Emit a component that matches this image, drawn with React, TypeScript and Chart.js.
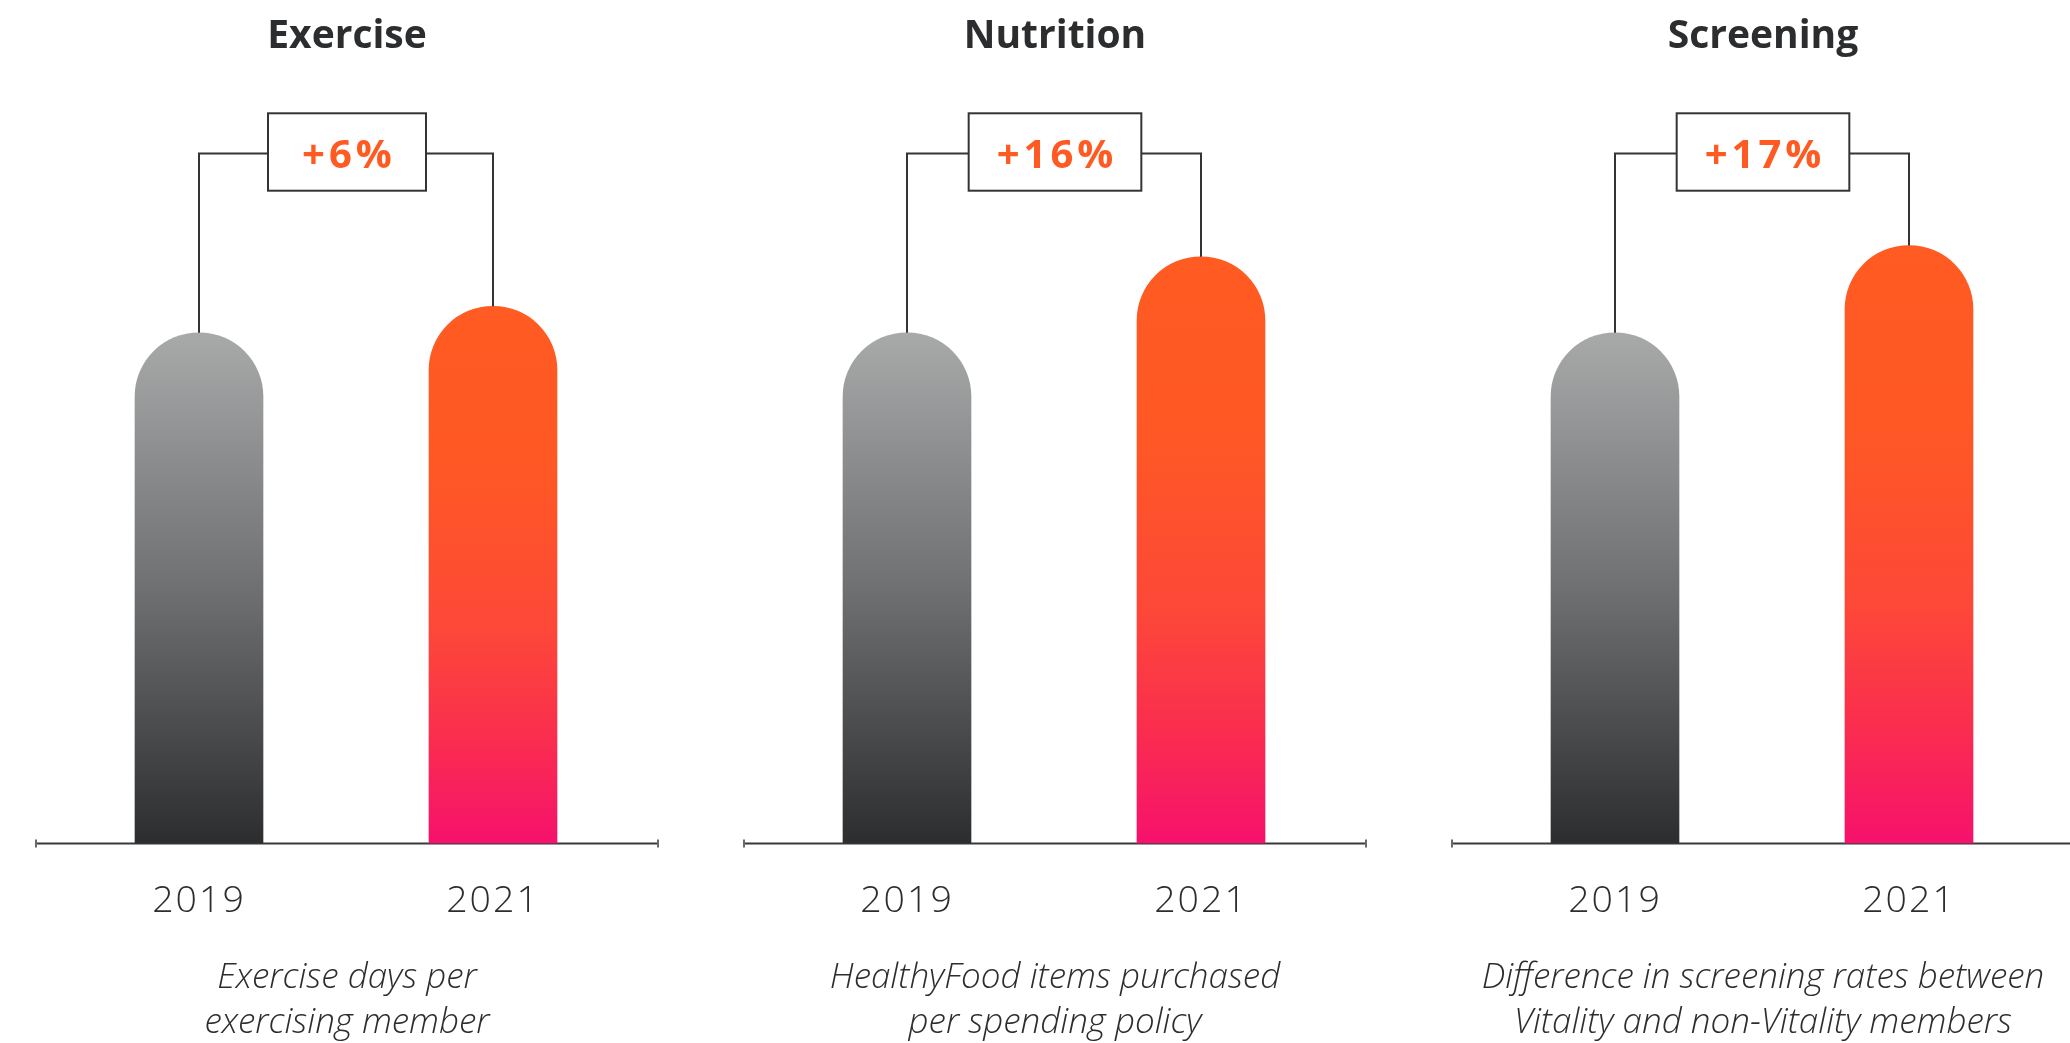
import React, { useEffect, useRef } from 'react';
import { Chart, registerables } from 'chart.js';

Chart.register(...registerables);

// ---- data ----
const years = ['2019', '2021'];
const panelTitles = ['Exercise', 'Nutrition', 'Screening'];
const values2019 = [100, 100, 100];
const values2021 = [105.2, 114.9, 117.1];
const changeLabels = ['+6%', '+16%', '+17%'];
const captionLine1 = ['Exercise days per', 'HealthyFood items purchased', 'Difference in screening rates between'];
const captionLine2 = ['exercising member', 'per spending policy', 'Vitality and non-Vitality members'];

// ---- style ----
const PANEL_LEFT = [25, 733, 1441];
const CANVAS_W = 644;
const CANVAS_H = 1043;
const DARK = '#2c2d2f';
const ORANGE = '#ff5a22';
const FONT = '"Open Sans", "Noto Sans", sans-serif';

function gradientFor(chart: any, index: number, value: number) {
  const area = chart.chartArea;
  const yScale = chart.scales && chart.scales.y;
  if (!area || !yScale) return index === 0 ? '#6e6f71' : ORANGE;
  const top = yScale.getPixelForValue(value);
  const base = yScale.getPixelForValue(0);
  const g = chart.ctx.createLinearGradient(0, top, 0, base);
  if (index === 0) {
    g.addColorStop(0, '#a8a9a9');
    g.addColorStop(0.5, '#6f7072');
    g.addColorStop(1, '#2c2d2f');
  } else {
    g.addColorStop(0, '#ff5b22');
    g.addColorStop(0.3, '#ff5824');
    g.addColorStop(0.6, '#fd4838');
    g.addColorStop(0.8, '#fa2e4e');
    g.addColorStop(1, '#f6116c');
  }
  return g;
}

function makeDecor(i: number) {
  return {
    id: 'decor' + i,
    beforeDraw(chart: any) {
      (chart.ctx as any).letterSpacing = '2px';
    },
    beforeDatasetsDraw(chart: any) {
      const ctx = chart.ctx;
      (ctx as any).letterSpacing = '0px';
      const yBase = chart.chartArea.bottom;
      ctx.save();
      ctx.strokeStyle = '#38393b';
      ctx.lineWidth = 2;
      ctx.beginPath();
      ctx.moveTo(10, yBase);
      ctx.lineTo(chart.width - 10, yBase);
      ctx.stroke();
      ctx.strokeStyle = '#6a6a6a';
      ctx.beginPath();
      ctx.moveTo(11, yBase - 4);
      ctx.lineTo(11, yBase + 4);
      ctx.moveTo(chart.width - 11, yBase - 4);
      ctx.lineTo(chart.width - 11, yBase + 4);
      ctx.stroke();
      ctx.restore();
    },
    afterDatasetsDraw(chart: any) {
      const ctx = chart.ctx;
      const cx = chart.width / 2;
      const meta = chart.getDatasetMeta(0);
      const b0 = meta.data[0];
      const b1 = meta.data[1];
      ctx.save();
      // title
      ctx.fillStyle = DARK;
      ctx.font = `bold 39px ${FONT}`;
      ctx.textAlign = 'center';
      ctx.textBaseline = 'alphabetic';
      ctx.fillText(panelTitles[i], cx, 47.5);

      // change box
      const lineY = 153.5;
      ctx.font = `bold 40px ${FONT}`;
      const spacing = 4;
      (ctx as any).letterSpacing = spacing + 'px';
      const tw = ctx.measureText(changeLabels[i]).width;
      const boxW = Math.max(158, tw + 52);
      const boxL = cx - boxW / 2;
      const boxR = cx + boxW / 2;
      ctx.strokeStyle = '#333436';
      ctx.lineWidth = 2;
      ctx.strokeRect(boxL, 113.3, boxW, 77.4);
      ctx.beginPath();
      ctx.moveTo(b0.x, b0.y);
      ctx.lineTo(b0.x, lineY);
      ctx.lineTo(boxL, lineY);
      ctx.moveTo(boxR, lineY);
      ctx.lineTo(b1.x, lineY);
      ctx.lineTo(b1.x, b1.y);
      ctx.stroke();
      ctx.fillStyle = ORANGE;
      ctx.fillText(changeLabels[i], cx + spacing / 2, 168.3);
      (ctx as any).letterSpacing = '0px';

      // caption
      ctx.fillStyle = DARK;
      ctx.font = `italic 300 35px ${FONT}`;
      ctx.fillText(captionLine1[i], cx, 987.7);
      ctx.fillText(captionLine2[i], cx, 1032.5);
      ctx.restore();
    },
  };
}

function Panel({ index }: { index: number }) {
  const ref = useRef<HTMLCanvasElement>(null);
  useEffect(() => {
    if (!ref.current) return;
    const chart = new Chart(ref.current, {
      type: 'bar',
      data: {
        labels: years,
        datasets: [
          {
            data: [values2019[index], values2021[index]],
            backgroundColor: (c: any) => gradientFor(c.chart, c.dataIndex, c.raw),
            borderWidth: 0,
            borderSkipped: 'start',
            borderRadius: { topLeft: 64, topRight: 64, bottomLeft: 0, bottomRight: 0 },
            barThickness: 128,
          } as any,
        ],
      },
      options: {
        responsive: false,
        animation: false,
        devicePixelRatio: 1,
        layout: { padding: { top: 77.5, bottom: 84.6, left: 27, right: 29 } },
        plugins: {
          legend: { display: false },
          tooltip: { enabled: false },
        },
        scales: {
          x: {
            grid: { display: false, drawTicks: false },
            border: { display: false },
            ticks: {
              color: DARK,
              padding: 35,
              font: { family: FONT, size: 37.5, weight: '300' as any },
            },
          },
          y: { display: false, min: 0, max: 150 },
        },
      },
      plugins: [makeDecor(index)],
    });
    return () => chart.destroy();
  }, [index]);
  return (
    <canvas
      ref={ref}
      width={CANVAS_W}
      height={CANVAS_H}
      style={{ position: 'absolute', left: PANEL_LEFT[index], top: 0, width: CANVAS_W, height: CANVAS_H }}
    />
  );
}

export default function App() {
  return (
    <div
      style={{
        position: 'absolute',
        left: 0,
        top: 0,
        width: 2070,
        height: 1043,
        overflow: 'hidden',
        background: '#ffffff',
      }}
    >
      {[0, 1, 2].map((i) => (
        <Panel key={i} index={i} />
      ))}
    </div>
  );
}
